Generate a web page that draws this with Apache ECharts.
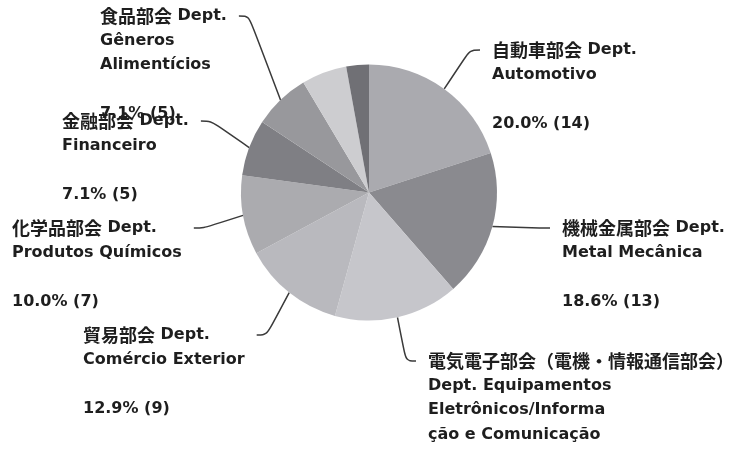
<!DOCTYPE html>
<html>
<head>
<meta charset="utf-8">
<script src="https://cdn.jsdelivr.net/npm/echarts@6/dist/echarts.min.js"></script>
<style>
html,body{margin:0;padding:0;background:#ffffff;}
#chart{width:752px;height:449px;}
</style>
</head>
<body>
<div id="chart"></div>
<script>
// ---- data ----
const jpNames = ['自動車部会', '機械金属部会', '電気電子部会（電機・情報通信部会）', '貿易部会', '化学品部会', '金融部会', '食品部会', '', ''];
const ptNames = [
  'Dept.\nAutomotivo',
  'Dept.\nMetal Mecânica',
  '\nDept. Equipamentos\nEletrônicos/Informa\nção e Comunicação',
  'Dept.\nComércio Exterior',
  'Dept.\nProdutos Químicos',
  'Dept.\nFinanceiro',
  'Dept.\nGêneros\nAlimentícios',
  '',
  ''
];
const counts = [14, 13, 11, 9, 7, 5, 5, 4, 2];

// ---- styles / layout (kept apart from the data) ----
const sliceColors = ['#aaaaaf', '#8a8a8f', '#c6c6cb', '#b9b9be', '#ababaf', '#7f7f84', '#98989c', '#cdcdd0', '#707075'];
// label block: left x of text, centre y of first line, side of the pie
const labelSpots = [
  [492, 50, 'right'],
  [562, 228, 'right'],
  [428, 361, 'right'],
  [83, 335, 'left'],
  [12, 228, 'left'],
  [62, 121, 'left'],
  [100, 16, 'left'],
  null,
  null
];
const LH = 24.5;

const chart = echarts.init(document.getElementById('chart'), null, {renderer: 'canvas'});

const seriesData = counts.map((v, i) => {
  const item = {
    value: v,
    name: jpNames[i] + ' ' + ptNames[i].replace(/\n/g, ' '),
    itemStyle: {color: sliceColors[i]}
  };
  if (!labelSpots[i]) {
    item.label = {show: false};
    item.labelLine = {show: false};
  }
  return item;
});

chart.setOption({
  animation: false,
  backgroundColor: '#ffffff',
  series: [{
    type: 'pie',
    center: [369, 192.5],
    radius: 128,
    startAngle: 90,
    clockwise: true,
    avoidLabelOverlap: false,
    percentPrecision: 1,
    data: seriesData,
    itemStyle: {borderWidth: 0},
    emphasis: {disabled: true},
    label: {
      show: true,
      position: 'outside',
      alignTo: 'none',
      color: '#1e1e1e',
      lineHeight: LH,
      fontFamily: 'DejaVu Sans',
      fontWeight: 'bold',
      fontSize: 16,
      formatter: function (p) {
        const i = p.dataIndex;
        const pt = ptNames[i].split('\n');
        const first = '{j|' + jpNames[i] + '}' + (pt[0] ? '{l| ' + pt[0] + '}' : '');
        const rest = pt.slice(1).map(s => '{l|' + s + '}');
        return [first].concat(rest, ['{l| }', '{l|' + p.percent.toFixed(1) + '% (' + p.value + ')}']).join('\n');
      },
      rich: {
        j: {fontFamily: 'Noto Sans CJK JP', fontWeight: 'bold', fontSize: 18, lineHeight: LH, color: '#1e1e1e'},
        l: {fontFamily: 'DejaVu Sans', fontWeight: 'bold', fontSize: 16, lineHeight: LH, color: '#1e1e1e'}
      }
    },
    labelLine: {
      show: true,
      length: 20,
      length2: 10,
      smooth: 0.35,
      lineStyle: {color: '#3a3a3a', width: 1.5}
    },
    labelLayout: function (params) {
      const s = labelSpots[params.dataIndex];
      if (!s) return {};
      const x = s[0], yc = s[1], side = s[2];
      const gap = 12, tail = 10;
      const w = params.labelRect.width;
      const end = side === 'right' ? [x - gap, yc] : [x + w + gap, yc];
      const mid = side === 'right' ? [end[0] - tail, yc] : [end[0] + tail, yc];
      const out = {x: x, y: yc - LH / 2, align: 'left', verticalAlign: 'top'};
      if (params.labelLinePoints && params.labelLinePoints.length) {
        out.labelLinePoints = [params.labelLinePoints[0].slice(), mid, end];
      }
      return out;
    }
  }]
});
</script>
</body>
</html>
